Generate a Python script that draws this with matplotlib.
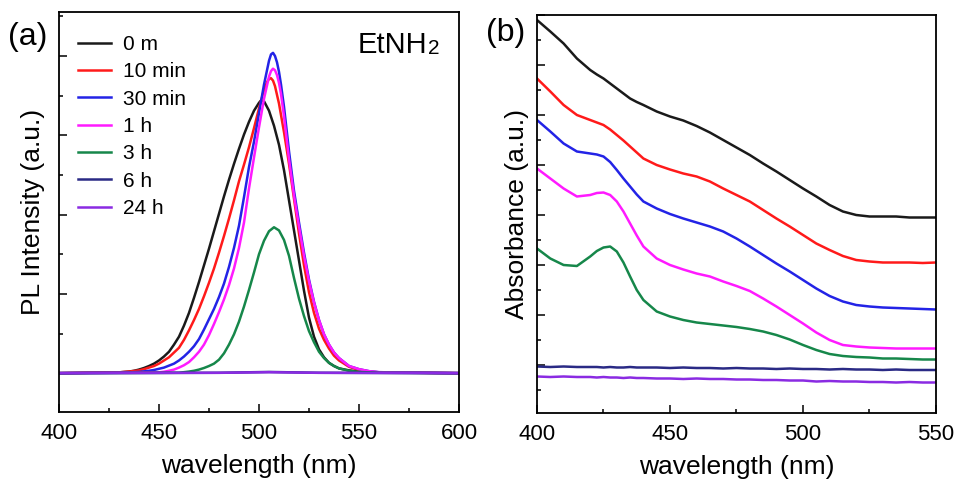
import matplotlib
matplotlib.use('Agg')
import matplotlib.pyplot as plt
from matplotlib.ticker import MultipleLocator

plt.rcParams['font.family'] = ['Liberation Sans', 'DejaVu Sans']

# ---- (a) PL spectra ----
labels = ['0 m', '10 min', '30 min', '1 h', '3 h', '6 h', '24 h']
colors = ['#1a1a1a', '#ff1a1a', '#2323e6', '#ff1aff', '#16874a', '#2a2a85', '#8a2be2']

wl_0m = [400, 430, 432.5, 435, 437.5, 440, 442.5, 445, 447.5, 450, 452.5, 455, 457.5, 460, 462.5, 465, 467.5, 470, 472.5, 475,
         477.5, 480, 482.5, 485, 487.5, 490, 492.5, 495, 497.5, 500, 501, 502.5, 505, 507.5, 510, 512.5, 515, 517.5, 520,
         522.5, 525, 527.5, 530, 532.5, 535, 537.5, 540, 545, 550, 555, 560, 600]
pl_0m = [0, 0.01, 0.015, 0.02, 0.03, 0.045, 0.065, 0.09, 0.12, 0.16, 0.21, 0.27, 0.36, 0.46, 0.60, 0.76, 0.95, 1.15, 1.36, 1.57,
         1.79, 2.01, 2.23, 2.44, 2.64, 2.83, 3.01, 3.17, 3.31, 3.41, 3.44, 3.43, 3.31, 3.12, 2.88, 2.56, 2.18, 1.80, 1.42,
         1.04, 0.70, 0.46, 0.30, 0.20, 0.13, 0.09, 0.06, 0.035, 0.02, 0.012, 0.008, 0]

wl_10m = [400, 430, 435, 440, 442.5, 445, 447.5, 450, 452.5, 455, 457.5, 460, 462.5, 465, 467.5, 470, 472.5, 475, 477.5, 480,
          482.5, 485, 487.5, 490, 492.5, 495, 497.5, 500, 502.5, 504, 505, 506, 507, 508, 510, 512.5, 515, 517.5, 520, 522.5,
          525, 527.5, 530, 532.5, 535, 537.5, 540, 545, 550, 555, 560, 600]
pl_10m = [0, 0.01, 0.02, 0.035, 0.05, 0.07, 0.09, 0.12, 0.16, 0.20, 0.26, 0.32, 0.42, 0.54, 0.67, 0.81, 0.97, 1.14, 1.32, 1.52,
          1.73, 1.95, 2.18, 2.42, 2.63, 2.85, 3.09, 3.34, 3.57, 3.67, 3.71, 3.72, 3.69, 3.62, 3.40, 3.04, 2.64, 2.20, 1.76, 1.36,
          1.02, 0.76, 0.56, 0.42, 0.31, 0.22, 0.16, 0.08, 0.04, 0.02, 0.01, 0]

wl_30m = [400, 430, 440, 445, 447.5, 450, 452.5, 455, 457.5, 460, 462.5, 465, 467.5, 470, 472.5, 475, 477.5, 480, 482.5, 485,
          487.5, 490, 492.5, 495, 497.5, 500, 502.5, 505, 506, 507, 508, 509, 510, 511, 512.5, 515, 517.5, 520, 522.5, 525,
          527.5, 530, 532.5, 535, 537.5, 540, 545, 550, 555, 560, 600]
pl_30m = [0, 0.005, 0.015, 0.03, 0.04, 0.055, 0.07, 0.095, 0.12, 0.16, 0.21, 0.27, 0.34, 0.43, 0.55, 0.68, 0.81, 0.96, 1.13, 1.34,
          1.58, 1.86, 2.22, 2.60, 2.92, 3.28, 3.64, 3.94, 4.02, 4.04, 4.00, 3.92, 3.80, 3.64, 3.36, 2.80, 2.30, 1.90, 1.52, 1.18,
          0.90, 0.67, 0.49, 0.36, 0.26, 0.19, 0.09, 0.05, 0.025, 0.012, 0]

wl_1h = [400, 450, 452.5, 455, 457.5, 460, 462.5, 465, 467.5, 470, 472.5, 475, 477.5, 480, 482.5, 485, 487.5, 490, 492.5, 495,
         497.5, 500, 502.5, 505, 506, 507, 508, 509, 510, 511, 512.5, 515, 517.5, 520, 522.5, 525, 527.5, 530, 532.5, 535,
         537.5, 540, 545, 550, 555, 560, 600]
pl_1h = [0, 0.01, 0.018, 0.03, 0.045, 0.07, 0.10, 0.14, 0.20, 0.27, 0.36, 0.48, 0.62, 0.77, 0.93, 1.11, 1.32, 1.58, 1.90, 2.33,
         2.72, 3.10, 3.46, 3.74, 3.81, 3.84, 3.82, 3.76, 3.66, 3.52, 3.24, 2.70, 2.24, 1.85, 1.48, 1.16, 0.89, 0.67, 0.49, 0.36,
         0.26, 0.19, 0.09, 0.05, 0.025, 0.012, 0]

wl_3h = [400, 460, 465, 467.5, 470, 472.5, 475, 477.5, 480, 482.5, 485, 487.5, 490, 492.5, 495, 497.5, 500, 502.5, 505, 507.5,
         510, 512.5, 515, 517.5, 520, 522.5, 525, 527.5, 530, 532.5, 535, 537.5, 540, 545, 550, 560, 600]
pl_3h = [0, 0.005, 0.02, 0.03, 0.045, 0.065, 0.09, 0.12, 0.17, 0.25, 0.36, 0.49, 0.65, 0.84, 1.05, 1.27, 1.50, 1.67, 1.79, 1.84,
         1.80, 1.68, 1.48, 1.20, 0.94, 0.72, 0.53, 0.39, 0.27, 0.19, 0.13, 0.09, 0.06, 0.03, 0.015, 0.005, 0]

wl_6h = [400, 480, 505, 530, 600]
pl_6h = [0, 0.005, 0.015, 0.005, 0]

wl_24h = [400, 480, 505, 530, 600]
pl_24h = [0, 0.004, 0.012, 0.004, 0]

# ---- (b) absorbance ----
wl_abs = [400, 405, 410, 415, 420, 422.5, 425, 427.5, 430, 432.5, 435, 437.5, 440, 445, 450, 455, 460, 465, 470, 475,
          480, 485, 490, 495, 500, 505, 510, 515, 520, 525, 530, 535, 540, 545, 550]
ab_0m = [6.90, 6.67, 6.43, 6.13, 5.90, 5.81, 5.73, 5.63, 5.53, 5.43, 5.33, 5.26, 5.20, 5.07, 4.97, 4.89, 4.78, 4.65, 4.50, 4.35,
         4.20, 4.03, 3.87, 3.70, 3.53, 3.37, 3.20, 3.07, 3.00, 2.97, 2.97, 2.97, 2.95, 2.95, 2.95]
ab_10m = [5.73, 5.47, 5.20, 5.00, 4.90, 4.85, 4.80, 4.71, 4.60, 4.49, 4.37, 4.25, 4.13, 4.00, 3.91, 3.83, 3.77, 3.67, 3.53, 3.40,
          3.27, 3.10, 2.93, 2.77, 2.60, 2.43, 2.30, 2.18, 2.10, 2.07, 2.05, 2.05, 2.05, 2.04, 2.05]
ab_30m = [4.90, 4.67, 4.43, 4.27, 4.23, 4.21, 4.17, 4.06, 3.90, 3.73, 3.57, 3.41, 3.27, 3.13, 3.02, 2.93, 2.85, 2.77, 2.67, 2.53,
          2.37, 2.20, 2.03, 1.87, 1.70, 1.53, 1.38, 1.27, 1.20, 1.17, 1.15, 1.14, 1.13, 1.12, 1.11]
ab_1h = [3.93, 3.73, 3.53, 3.37, 3.40, 3.44, 3.45, 3.40, 3.27, 3.07, 2.83, 2.59, 2.37, 2.13, 2.00, 1.91, 1.83, 1.77, 1.67, 1.58,
         1.48, 1.33, 1.17, 1.00, 0.83, 0.65, 0.50, 0.40, 0.37, 0.35, 0.34, 0.33, 0.33, 0.33, 0.33]
ab_3h = [2.33, 2.13, 2.00, 1.98, 2.17, 2.28, 2.35, 2.37, 2.27, 2.05, 1.77, 1.50, 1.30, 1.07, 0.97, 0.90, 0.85, 0.82, 0.79, 0.76,
         0.72, 0.67, 0.60, 0.51, 0.40, 0.30, 0.22, 0.18, 0.16, 0.15, 0.13, 0.13, 0.12, 0.11, 0.11]
ab_6h = [-0.03, -0.04, -0.03, -0.04, -0.04, -0.04, -0.05, -0.04, -0.05, -0.05, -0.04, -0.05, -0.05, -0.05, -0.06, -0.05, -0.06,
         -0.06, -0.07, -0.06, -0.07, -0.07, -0.08, -0.07, -0.08, -0.08, -0.09, -0.08, -0.09, -0.09, -0.10, -0.09, -0.10, -0.10, -0.10]
ab_24h = [-0.23, -0.24, -0.23, -0.24, -0.24, -0.25, -0.24, -0.25, -0.25, -0.26, -0.25, -0.26, -0.26, -0.27, -0.27, -0.28, -0.27,
          -0.28, -0.28, -0.29, -0.29, -0.30, -0.30, -0.31, -0.31, -0.33, -0.32, -0.33, -0.33, -0.34, -0.34, -0.35, -0.34, -0.35, -0.35]

pl_wl = [wl_0m, wl_10m, wl_30m, wl_1h, wl_3h, wl_6h, wl_24h]
pl_val = [pl_0m, pl_10m, pl_30m, pl_1h, pl_3h, pl_6h, pl_24h]
abs_val = [ab_0m, ab_10m, ab_30m, ab_1h, ab_3h, ab_6h, ab_24h]

fig = plt.figure(figsize=(9.56, 4.87), dpi=100)
ax1 = fig.add_axes([59/956, 75/487, 400/956, 400/487])
ax2 = fig.add_axes([537/956, 74/487, 399/956, 398/487])

for i in range(len(labels)):
    ax1.plot(pl_wl[i], pl_val[i], color=colors[i], lw=1.8, label=labels[i])
    ax2.plot(wl_abs, abs_val[i], color=colors[i], lw=1.8)

for ax in (ax1, ax2):
    for s in ax.spines.values():
        s.set_linewidth(1.3)
    ax.tick_params(which='both', direction='in', top=False, right=False, width=1.1)
    ax.tick_params(which='major', length=5.5, labelsize=16, pad=8)
    ax.tick_params(which='minor', length=3)
    ax.tick_params(axis='y', labelleft=False)
    ax.yaxis.set_major_locator(MultipleLocator(1))
    ax.yaxis.set_minor_locator(MultipleLocator(0.5))
    ax.xaxis.set_major_locator(MultipleLocator(50))
    ax.xaxis.set_minor_locator(MultipleLocator(25))
    ax.set_xlabel('wavelength (nm)', fontsize=19, labelpad=7)

ax1.set_xlim(400, 600)
ax1.set_ylim(-0.49, 4.555)
ax1.set_ylabel('PL Intensity (a.u.)', fontsize=19, labelpad=6.5)

ax2.set_xlim(400, 550)
ax2.set_ylim(-0.96, 7.0)
ax2.set_ylabel('Absorbance (a.u.)', fontsize=19, labelpad=2.5)

ax1.legend(loc='upper left', bbox_to_anchor=(0.0475, 0.9425), frameon=False,
           fontsize=15, handlelength=1.6, handletextpad=0.55, labelspacing=0.4,
           borderpad=0, borderaxespad=0)

ax1.text(0.7475, 0.8975, 'EtNH', transform=ax1.transAxes, fontsize=21, va='baseline', ha='left')
ax1.text(0.9225, 0.895, '2', transform=ax1.transAxes, fontsize=15, va='baseline', ha='left')

fig.text(8/956, 1 - 37/487, '(a)', fontsize=23, va='center', ha='left')
fig.text(486/956, 1 - 33/487, '(b)', fontsize=23, va='center', ha='left')

fig.savefig('out.png', dpi=100)
